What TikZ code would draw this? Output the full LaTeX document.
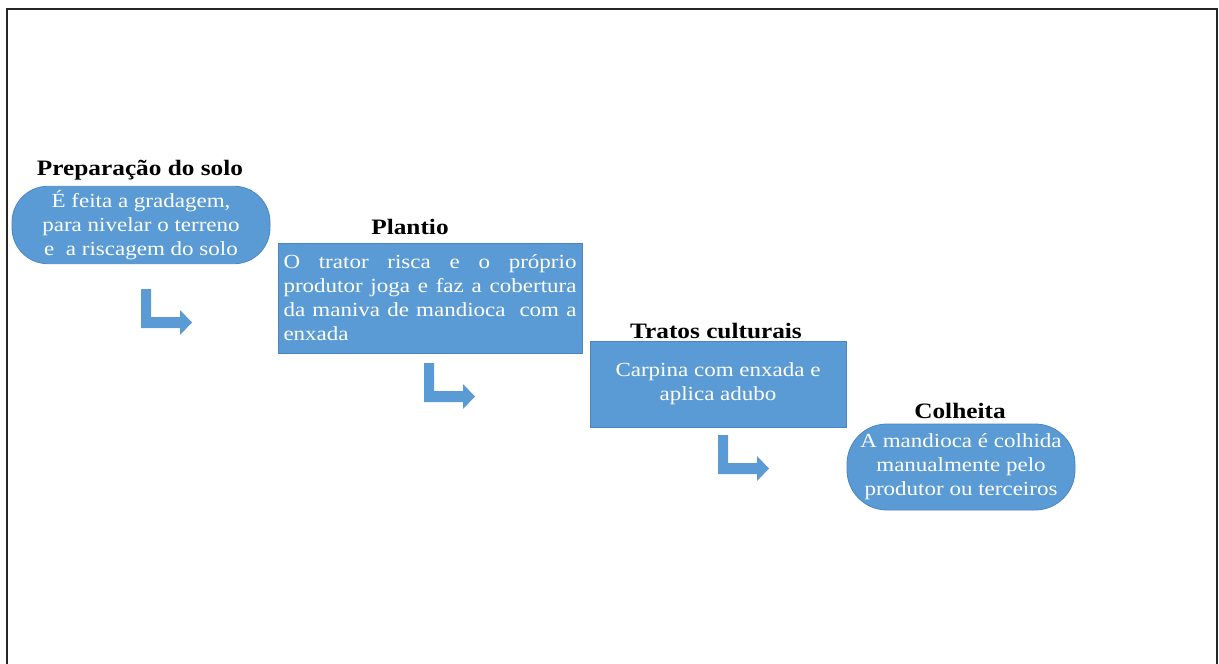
\documentclass[tikz,border=0pt]{standalone}
\usepackage{fontspec}
\setmainfont{Liberation Serif}[FakeStretch=1.15]
\newcommand\jgap{\hspace{0pt plus 1fill}\ }
\begin{document}
\begin{tikzpicture}[x=1pt,y=-1pt,
  boxblue/.style={fill=stepblue,draw=stepedge,line width=0.8pt,text=white,
    font=\fontsize{20}{24}\selectfont,inner sep=4pt},
  stadium/.style={boxblue,rounded corners=36pt,align=center},
  squarebox/.style={boxblue,align=center},
  steptitle/.style={font=\bfseries\fontsize{22}{26}\selectfont,text=black,inner sep=0pt},
  bentarrow/.pic={\fill[stepblue] (0,0) -- (10,0) -- (10,28) -- (39,28) -- (39,21)
      -- (51,33.5) -- (39,46) -- (39,39) -- (0,39) -- cycle;}
]
\definecolor{stepblue}{HTML}{5B9BD5}
\definecolor{stepedge}{HTML}{4A86C4}
\useasboundingbox (0,0) rectangle (1219,664);
% frame
\draw[line width=1.8pt,black!85] (7,664) -- (7,9) -- (1217,9) -- (1217,664);

% step 1
\node[steptitle] (t1) at (140,170) {Preparação do solo};
\node[stadium,minimum width=258pt,minimum height=74pt] (s1) at (141,225)
  {É feita a gradagem,\\para nivelar o terreno\\e\ \ a riscagem do solo};
% step 2
\node[steptitle] (t2) at (410,227) {Plantio};
\node[boxblue,rounded corners=0pt,minimum width=304pt,minimum height=110pt,
  text width=293pt,align=left,inner sep=5pt] (s2) at (430,298)
  {\makebox[293pt][l]{O\jgap trator\jgap risca\jgap e\jgap o\jgap próprio}\\
   \makebox[293pt][l]{produtor\jgap joga\jgap e\jgap faz\jgap a\jgap cobertura}\\
   \makebox[293pt][l]{da\jgap maniva\jgap de\jgap mandioca\ \jgap com\jgap a}\\
   enxada};
% step 3
\node[steptitle] (t3) at (716,331) {Tratos culturais};
\node[squarebox,minimum width=256pt,minimum height=86pt] (s3) at (718,384)
  {\raisebox{3pt}{Carpina com enxada e}\\\raisebox{3pt}{aplica adubo}};
% step 4
\node[steptitle] (t4) at (960,411) {Colheita};
\node[stadium,rounded corners=40pt,minimum width=228pt,minimum height=86pt] (s4) at (961,467)
  {A mandioca é colhida\\manualmente pelo\\produtor ou terceiros};

% bent arrows
\coordinate (a1) at (141,289);
\coordinate (a2) at (424,363);
\coordinate (a3) at (718,435);
\pic at (a1) {bentarrow};
\pic at (a2) {bentarrow};
\pic at (a3) {bentarrow};
\end{tikzpicture}
\end{document}
